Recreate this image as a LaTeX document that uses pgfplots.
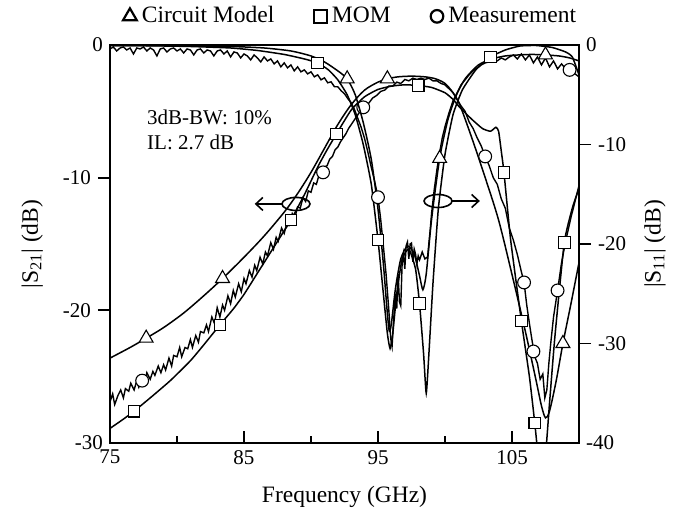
\documentclass[border=0pt]{standalone}
\usepackage{fontspec}
\setmainfont{Liberation Serif}
\usepackage{pgfplots}
\pgfplotsset{compat=1.18}
\usetikzlibrary{arrows.meta}
\newcommand{\lblfont}{\fontsize{23.5}{28}\selectfont}
\begin{document}
\fontsize{21}{25}\selectfont
\begin{tikzpicture}
\useasboundingbox (-110pt,-65pt) rectangle (573pt,443pt);
\begin{axis}[
  at={(0pt,0pt)}, anchor=south west,
  scale only axis, width=469pt, height=398pt,
  xmin=75, xmax=110, ymin=-30, ymax=0,
  xtick={75,85,95,105}, minor xtick={80,90,100},
  xtick pos=bottom, ytick pos=left,
  xtick align=inside, ytick align=outside,
  ytick={-20,-10},
  extra y ticks={-30,0}, extra y tick style={major tick length=0pt},
  major tick length=12pt, minor tick length=7pt,
  tick style={black, line width=1.8pt},
  axis line style={line width=2.4pt},
  /pgf/number format/assume math mode=true,
  clip mode=individual,
  xlabel={\lblfont Frequency (GHz)},
  xlabel style={at={(axis description cs:0.5,-0.149)}, anchor=base},
  ylabel={\lblfont |S\textsubscript{21}| (dB)},
  ylabel style={at={(axis description cs:-0.166,0.5)}, anchor=center},
  legend style={draw=none, fill=none, at={(axis description cs:0.513,1.072)}, anchor=center,
    legend columns=3, /tikz/every even column/.append style={column sep=38pt},
    /tikz/every odd column/.append style={column sep=3pt}, inner sep=0pt},
  legend cell align=left,
]
\addlegendimage{only marks, mark=triangle*, mark size=8pt, mark options={fill=white, draw=black, line width=2.2pt}}
\addlegendentry{\lblfont Circuit Model}
\addlegendimage{only marks, mark=square*, mark size=6.3pt, mark options={fill=white, draw=black, line width=2.2pt}}
\addlegendentry{\lblfont MOM}
\addlegendimage{only marks, mark=*, mark size=6.3pt, mark options={fill=white, draw=black, line width=2.2pt}}
\addlegendentry{\lblfont Measurement}

% S21 circuit model
\addplot[black, line width=1.5pt, smooth, tension=0.5, forget plot] coordinates {
(75,-23.6) (76.5,-22.8) (77.7,-22.1) (79,-21.3) (80.5,-20.2) (82,-18.9) (83.4,-17.6) (85,-16.0) (86.5,-14.4) (88,-12.6) (89,-11.2) (90,-9.6) (91,-7.8) (92,-6.0) (93,-4.5) (94,-3.4) (95,-2.8) (95.7,-2.55) (96.5,-2.4) (97.5,-2.35) (98.5,-2.4) (99.3,-2.55) (100,-2.9) (100.6,-3.6) (101.1,-4.5) (102,-7.0) (103,-10.0) (104,-13.2) (105,-17.3) (106,-21.6) (106.8,-25.3) (107.2,-27.2) (107.5,-28.1) (107.8,-27.6) (108.3,-25.3) (108.8,-22.5) (109.4,-19.5) (110,-16.4)};
% S21 MOM
\addplot[black, line width=1.5pt, smooth, tension=0.3, forget plot] coordinates {
(75,-28.9) (76,-28.2) (76.8,-27.6) (78,-26.6) (79.5,-25.3) (81,-23.8) (82,-22.6) (83.2,-21.1) (84.2,-19.9) (85,-18.8) (86,-17.2) (87,-15.6) (88,-14.0) (88.5,-13.2) (89.5,-11.3) (90.5,-9.2) (91.2,-7.9) (91.9,-6.7) (93,-4.9) (94,-3.9) (95,-3.35) (96,-3.1) (97,-3.0) (98,-3.05) (99,-3.2) (100,-3.6) (100.6,-4.1) (101.1,-4.7) (102,-5.6) (102.8,-6.3) (103.4,-6.5) (103.8,-6.2) (104.0,-6.5) (104.2,-8.0) (104.4,-9.6) (104.9,-14.7) (105.7,-20.8) (106.3,-25.0) (106.7,-28.5) (107.0,-31.5) (107.25,-33) (107.5,-31) (107.8,-27) (108.2,-22.0) (108.9,-14.9) (109.5,-12.3) (110,-10.8)};
% S21 measurement
\addplot[black, line width=1.4pt, forget plot] coordinates {
(75.0,-26.9) (75.2,-26.3) (75.35,-27.1) (75.6,-26.4) (75.8,-26.0) (76.0,-26.6) (76.15,-25.9) (76.4,-26.1) (76.55,-25.5) (76.8,-26.0) (77.0,-25.3) (77.15,-25.8) (77.4,-25.2) (77.6,-25.4) (77.75,-24.7) (78.0,-25.2) (78.2,-24.6) (78.35,-24.9) (78.6,-24.2) (78.8,-24.7) (79.0,-24.1) (79.15,-24.5) (79.4,-23.6) (79.6,-24.2) (79.75,-23.4) (80.0,-23.5) (80.2,-22.8) (80.35,-23.5) (80.6,-22.8) (80.8,-22.9) (81.0,-22.2) (81.15,-22.8) (81.4,-21.9) (81.6,-22.4) (81.75,-21.6) (82.0,-21.7) (82.2,-21.1) (82.35,-21.6) (82.6,-20.5) (82.8,-21.0) (83.0,-19.8) (83.2,-20.5) (83.4,-19.6) (83.55,-20.0) (83.8,-18.9) (84.0,-19.5) (84.2,-18.5) (84.35,-19.0) (84.6,-18.0) (84.8,-18.6) (85.0,-17.6) (85.15,-18.0) (85.4,-17.0) (85.6,-17.5) (85.8,-16.6) (85.95,-17.0) (86.2,-16.0) (86.4,-16.5) (86.6,-15.6) (86.75,-15.9) (87.0,-14.9) (87.2,-15.4) (87.4,-14.5) (87.55,-14.8) (87.8,-13.8) (88.0,-14.2) (88.2,-13.4) (88.35,-13.6) (88.6,-12.7) (88.8,-13.0) (89.0,-12.2) (89.2,-12.3) (89.4,-11.5) (89.6,-11.8) (89.8,-11.0) (90.0,-11.1) (90.2,-10.4) (90.4,-10.5) (90.6,-9.8) (90.8,-9.8) (91.0,-9.2) (91.2,-9.1) (91.4,-8.6) (91.6,-8.4) (91.8,-7.9) (92.0,-7.7) (92.2,-7.3) (92.4,-7.0) (92.6,-6.7) (92.8,-6.3) (93.0,-6.0) (93.2,-5.7) (93.4,-5.4) (93.6,-5.1) (93.8,-4.9) (94.0,-4.6) (94.3,-4.4) (94.6,-4.0) (94.9,-3.8) (95.2,-3.5) (95.5,-3.4) (95.8,-3.1) (96.1,-3.1) (96.4,-2.8) (96.7,-2.9) (97.0,-2.6) (97.3,-2.7) (97.6,-2.5) (97.9,-2.6) (98.2,-2.5) (98.5,-2.6) (98.8,-2.5) (99.1,-2.7) (99.4,-2.7) (99.7,-2.9) (100.0,-3.0) (100.3,-3.3) (100.6,-3.6) (100.9,-4.1) (101.2,-4.6) (101.5,-5.0) (101.8,-5.8) (102.1,-6.3) (102.4,-7.0) (102.7,-7.6) (103.0,-8.4) (103.3,-9.1) (103.6,-10.0) (103.9,-10.5) (104.2,-11.6) (104.5,-12.3) (104.8,-13.8) (105.1,-14.7) (105.4,-15.8) (105.7,-17.1) (105.9,-17.9) (106.1,-19.6) (106.3,-21.0) (106.5,-22.3) (106.7,-23.5) (106.9,-24.0) (107.1,-25.2) (107.3,-24.8) (107.45,-26.6) (107.6,-26.0) (107.75,-24.0) (107.9,-22.4) (108.1,-20.5) (108.4,-18.5) (108.7,-16.4) (109.0,-14.8) (109.4,-13.0) (109.7,-11.8) (110.0,-10.6)};
% markers S21
\addplot[only marks, mark=triangle*, mark size=8pt, mark options={fill=white, draw=black, line width=1.1pt}, forget plot] coordinates {(77.7,-22.1) (83.4,-17.6) (95.7,-2.55) (108.8,-22.5)};
\addplot[only marks, mark=square*, mark size=5.8pt, mark options={fill=white, draw=black, line width=1.1pt}, forget plot] coordinates {(76.8,-27.6) (83.2,-21.1) (88.5,-13.2) (91.9,-6.7) (98,-3.05) (104.4,-9.6) (105.7,-20.8) (106.7,-28.5) (108.9,-14.9)};
\addplot[only marks, mark=*, mark size=6.4pt, mark options={fill=white, draw=black, line width=1.1pt}, forget plot] coordinates {(77.4,-25.3) (90.9,-9.6) (93.9,-4.7) (103,-8.4) (105.9,-17.9) (106.6,-23.1) (108.4,-18.5)};

\node[anchor=west, align=left, inner sep=0pt, font=\fontsize{21}{24.5}\selectfont] at (axis cs:77.76,-6.4) {3dB-BW: 10\%\\IL: 2.7 dB};
\draw[line width=1.6pt] (axis cs:88.88,-11.98) ellipse [x radius=14pt, y radius=6.5pt];
\draw[line width=1.6pt, -{Straight Barb[length=7pt,width=13pt]}] (axis cs:87.84,-11.98) -- (axis cs:85.8,-11.98);
\draw[line width=1.6pt] (axis cs:99.48,-11.76) ellipse [x radius=14pt, y radius=6.5pt];
\draw[line width=1.6pt, -{Straight Barb[length=7pt,width=13pt]}] (axis cs:100.52,-11.76) -- (axis cs:102.6,-11.76);
\end{axis}

\begin{axis}[
  at={(0pt,0pt)}, anchor=south west,
  scale only axis, width=469pt, height=398pt,
  xmin=75, xmax=110, ymin=-40, ymax=0,
  axis x line=none, axis y line*=right,
  ytick={-30,-20,-10},
  extra y ticks={-40,0}, extra y tick style={major tick length=0pt},
  ytick align=outside, major tick length=12pt,
  tick style={black, line width=1.8pt},
  axis line style={line width=2.4pt},
  /pgf/number format/assume math mode=true,
  clip mode=individual,
  ylabel={\lblfont |S\textsubscript{11}| (dB)},
  ylabel style={at={(axis description cs:1.162,0.5)}, anchor=center},
]
% S11 circuit
\addplot[black, line width=1.5pt, smooth, tension=0.4] coordinates {
(75,-0.05) (80,-0.08) (84,-0.15) (86.5,-0.3) (88.5,-0.6) (90,-1.1) (91,-1.7) (92,-2.6) (92.7,-3.4) (93.3,-5.0) (93.9,-7.8) (94.5,-11.5) (95.0,-16.5) (95.4,-22.0) (95.7,-27.0) (95.85,-28.8) (96.0,-28.0) (96.3,-24.5) (96.7,-21.5) (97.2,-20.2) (97.7,-21.0) (98.1,-23.2) (98.35,-24.6) (98.6,-23.0) (99.0,-17.5) (99.6,-11.4) (100.2,-7.6) (100.8,-5.2) (101.5,-3.4) (102.5,-2.0) (103.5,-1.4) (104.5,-1.1) (105.5,-1.0) (106.5,-0.95) (107.5,-1.0) (108.5,-1.1) (109.3,-1.3) (110,-1.6)};
% S11 MOM
\addplot[black, line width=1.5pt, smooth, tension=0.3] coordinates {
(75,-0.05) (78,-0.08) (81,-0.15) (84,-0.3) (86,-0.55) (88,-0.95) (89.5,-1.4) (90.5,-1.8) (91.3,-2.5) (92,-3.5) (92.7,-5.0) (93.3,-7.0) (93.9,-10.0) (94.5,-14.0) (95.0,-19.6) (95.4,-25.0) (95.7,-29.0) (95.9,-30.5) (96.1,-29.0) (96.4,-25.0) (96.8,-21.5) (97.3,-20.5) (97.8,-22.5) (98.1,-26.0) (98.4,-31.0) (98.6,-35.0) (98.8,-31.0) (99.1,-24.0) (99.5,-16.5) (100.0,-11.0) (100.6,-7.0) (101.3,-4.5) (102.3,-2.5) (103.4,-1.2) (104.5,-0.5) (105.6,-0.1) (106.8,-0.05) (108,-0.25) (109,-0.7) (109.5,-1.2) (110,-3.0)};
% S11 measurement
\addplot[black, line width=1.4pt] coordinates {
(75.0,-0.4) (75.25,-0.2) (75.5,-0.6) (75.75,-0.3) (76.0,-0.2) (76.25,-0.5) (76.5,-0.3) (76.75,-0.9) (77.0,-0.3) (77.25,-0.4) (77.5,-0.2) (77.75,-0.6) (78.0,-0.3) (78.25,-0.5) (78.5,-1.1) (78.75,-0.4) (79.0,-0.3) (79.25,-0.7) (79.5,-0.4) (79.75,-0.3) (80.0,-0.6) (80.25,-0.4) (80.5,-0.8) (80.75,-0.4) (81.0,-0.5) (81.25,-1.0) (81.5,-0.5) (81.75,-0.4) (82.0,-0.8) (82.25,-0.5) (82.5,-0.6) (82.75,-1.1) (83.0,-0.6) (83.25,-0.5) (83.5,-0.9) (83.75,-0.6) (84.0,-1.2) (84.25,-0.7) (84.5,-0.8) (84.75,-1.3) (85.0,-0.9) (85.25,-1.1) (85.5,-1.5) (85.75,-1.0) (86.0,-1.3) (86.25,-1.7) (86.5,-1.2) (86.75,-1.6) (87.0,-1.4) (87.25,-1.9) (87.5,-1.6) (87.75,-2.2) (88.0,-1.8) (88.25,-2.3) (88.5,-2.0) (88.75,-2.6) (89.0,-2.2) (89.25,-2.7) (89.5,-2.5) (89.75,-2.9) (90.0,-2.7) (90.25,-3.2) (90.5,-3.0) (90.75,-3.5) (91.0,-3.3) (91.25,-3.8) (91.5,-3.7) (91.75,-4.2) (92.0,-4.2) (92.25,-4.6) (92.5,-4.9) (92.75,-5.4) (93.0,-5.8) (93.25,-6.5) (93.5,-7.4) (93.75,-8.3) (94.0,-9.4) (94.25,-10.8) (94.5,-12.3) (94.75,-13.7) (95.0,-15.3) (95.2,-17.5) (95.4,-20.2) (95.6,-23.0) (95.8,-26.5) (95.95,-29.5) (96.05,-30.3) (96.15,-28.0) (96.3,-25.0) (96.4,-26.5) (96.5,-23.0) (96.6,-25.8) (96.7,-26.2) (96.8,-22.0) (96.9,-21.0) (97.0,-22.5) (97.1,-20.2) (97.2,-19.8) (97.3,-21.5) (97.4,-20.0) (97.5,-19.9) (97.6,-21.8) (97.7,-20.5) (97.8,-21.0) (97.9,-22.0) (98.0,-21.2) (98.1,-21.6) (98.3,-20.8) (98.5,-21.5) (98.7,-21.3) (98.9,-18.5) (99.0,-16.9) (99.2,-14.5) (99.4,-12.5) (99.6,-10.8) (99.8,-9.3) (100.0,-8.2) (100.3,-6.8) (100.6,-5.6) (100.9,-4.8) (101.2,-4.0) (101.5,-3.5) (101.8,-3.0) (102.1,-2.6) (102.4,-2.3) (102.7,-2.0) (103.0,-1.8) (103.3,-1.7) (103.6,-1.4) (103.9,-1.6) (104.2,-1.3) (104.5,-1.5) (104.8,-1.2) (105.1,-1.0) (105.4,-1.4) (105.7,-0.9) (106.0,-1.5) (106.3,-1.0) (106.6,-1.8) (106.9,-1.2) (107.2,-2.0) (107.5,-1.3) (107.8,-2.2) (108.1,-1.6) (108.4,-2.4) (108.7,-1.9) (109.0,-2.4) (109.3,-2.5) (109.6,-2.8) (110.0,-3.2)};
% markers S11
\addplot[only marks, mark=triangle*, mark size=8pt, mark options={fill=white, draw=black, line width=1.1pt}] coordinates {(92.7,-3.4) (99.6,-11.4) (107.5,-1.0)};
\addplot[only marks, mark=square*, mark size=5.8pt, mark options={fill=white, draw=black, line width=1.1pt}] coordinates {(90.5,-1.8) (95.0,-19.6) (98.1,-26.0) (103.4,-1.2)};
\addplot[only marks, mark=*, mark size=6.4pt, mark options={fill=white, draw=black, line width=1.1pt}] coordinates {(95.0,-15.3) (109.3,-2.5)};
\end{axis}
\end{tikzpicture}
\end{document}
